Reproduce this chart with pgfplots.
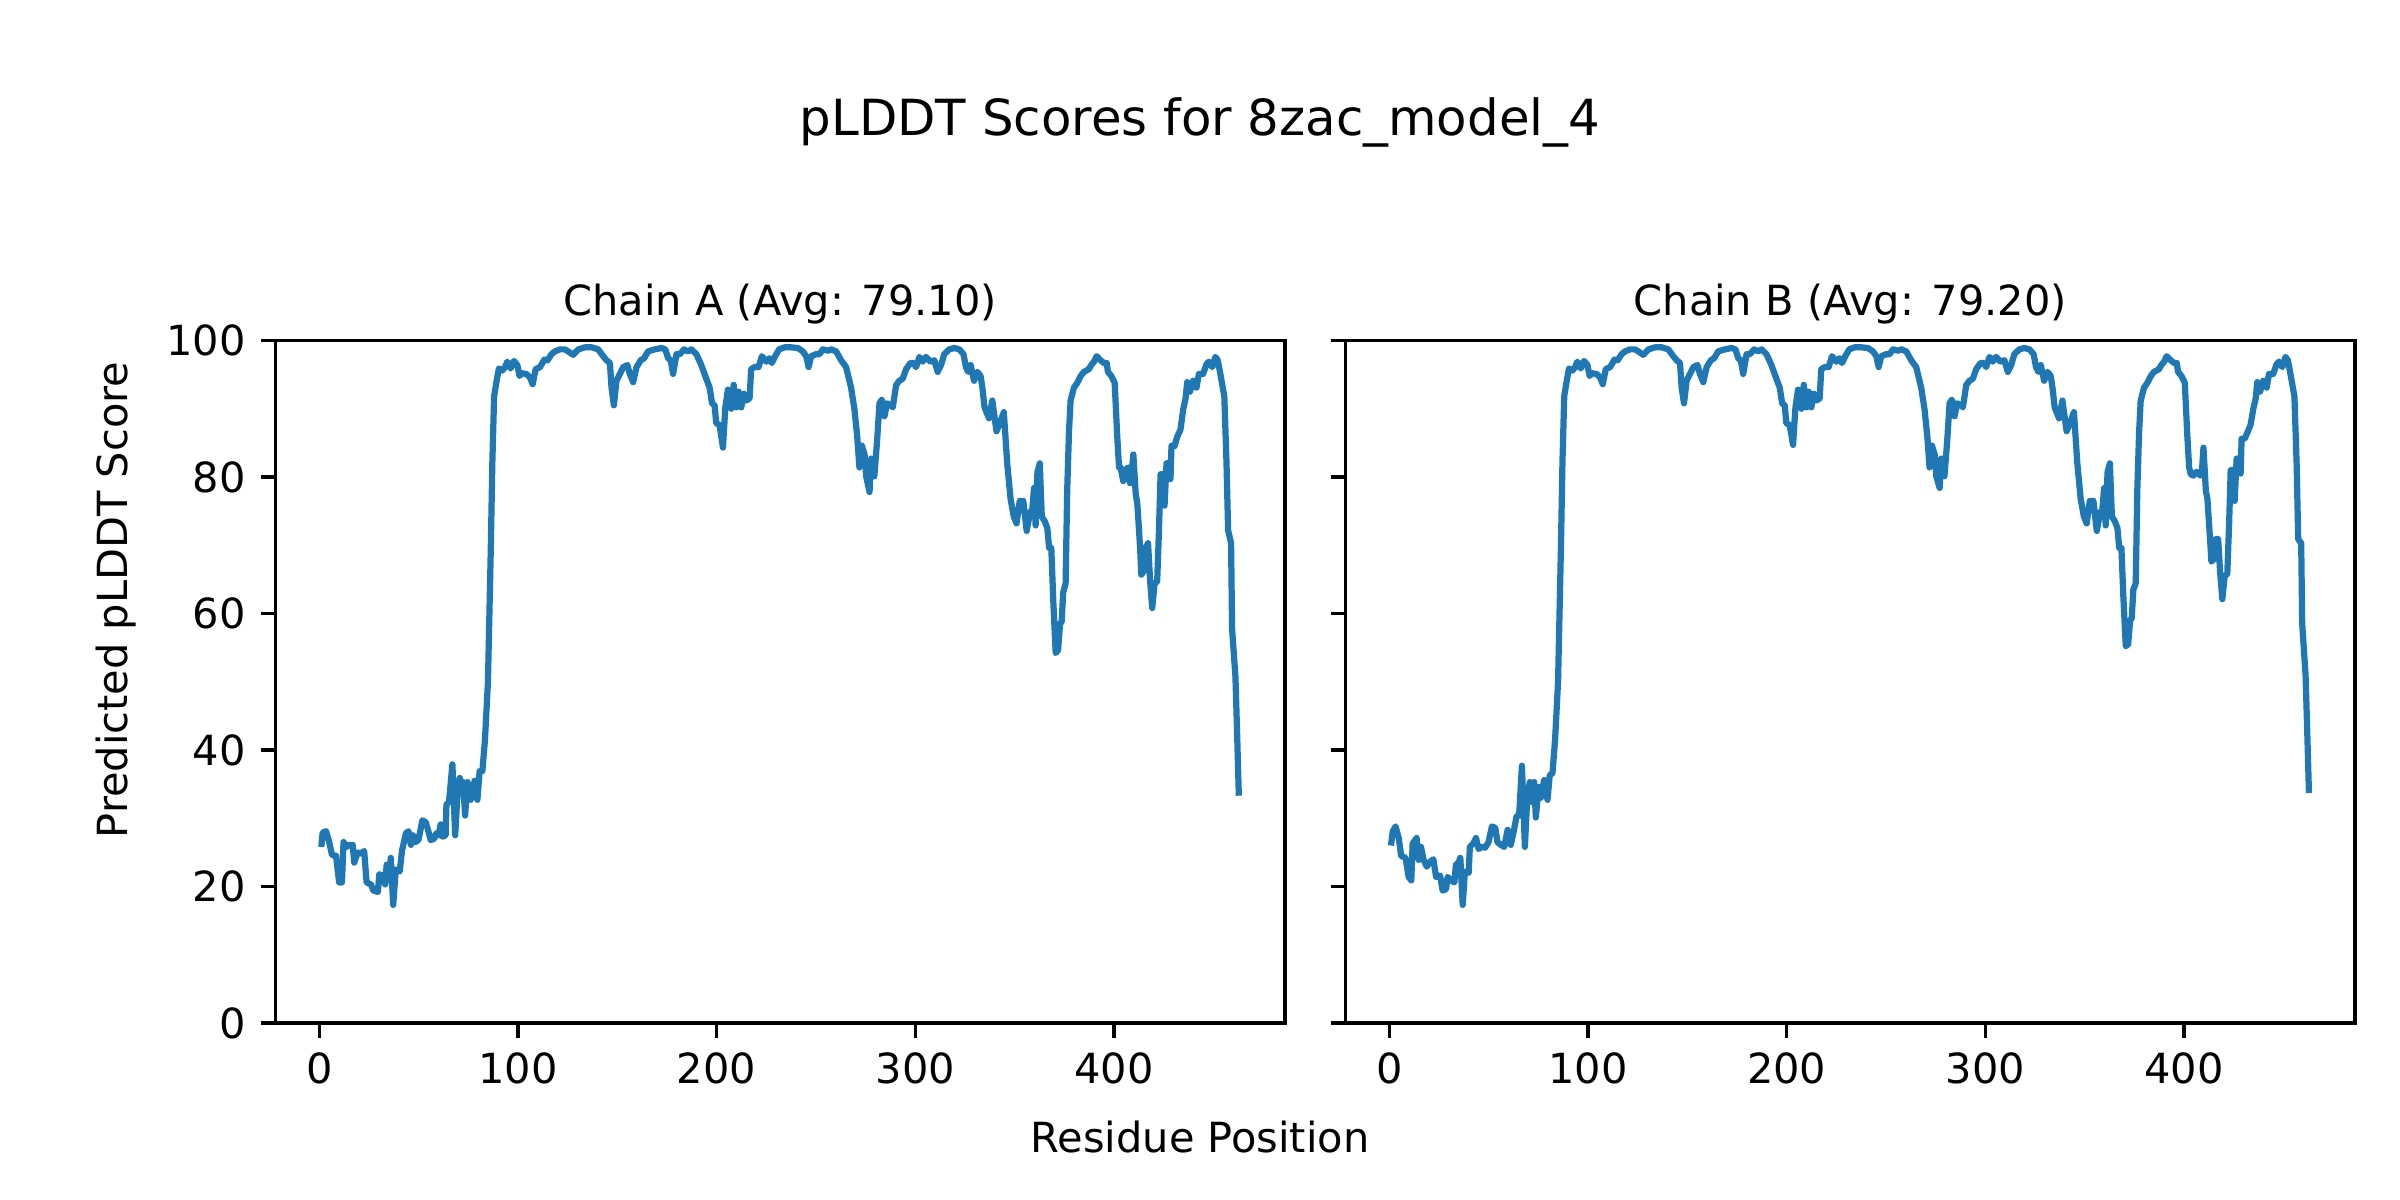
\documentclass[border=0pt]{standalone}
\usepackage{fontspec}
\setmainfont{DejaVu Sans}
\usepackage{pgfplots}
\pgfplotsset{compat=1.18}
\definecolor{mplblue}{HTML}{1F77B4}

\pgfplotsset{
  pl/.style={
    scale only axis, width=3.365in, height=2.275in,
    xmin=-22.1, xmax=486.1, ymin=0, ymax=100,
    xtick={0,100,200,300,400}, ytick={0,20,40,60,80,100},
    minor tick num=0,
    tick align=outside, major tick length=3.5pt,
    xtick pos=left, ytick pos=left,
    every tick/.style={black, line width=0.8pt},
    axis line style={line width=0.8pt},
    tick label style={font=\fontsize{10}{12}\selectfont},
    /pgf/number format/assume math mode=true,
    xticklabel style={inner sep=0pt, yshift=-3.5pt},
    yticklabel style={inner sep=0pt, xshift=-3.5pt},
    title style={at={(0.5,1)}, anchor=base, font=\fontsize{10}{12}\selectfont, inner sep=0pt},
  }
}

\begin{document}
\begin{tikzpicture}
\path[use as bounding box] (0,0) rectangle (8in,4in);

\begin{axis}[pl, at={(0.918in,0.59in)}, anchor=south west, title={Chain A (Avg: 79.10)}]
\addplot[mplblue, line width=1.5pt, line join=round] coordinates {
(1,25.8) (1.7,27.9) (3.4,28.1) (5,26.5) (6.4,24.6) (8.4,24.5) (10,20.6) (11.4,20.6) (12.2,26.5) (13.7,25.8) (15,26.1) (16.8,26.1) (17.6,23.5) (19.3,25) (20.9,24.8) (22.6,25.2) (23.8,20.6) (26,20.3) (27.2,19.4) (28.5,19.3) (29.5,19.2) (30.2,21.8) (31.8,21.6) (33.2,20.3) (33.9,23.2) (35.2,22.2) (36,24.2) (37.2,17.3) (38.5,22.5) (40.5,22.2) (41.6,25.2) (43.6,27.8) (44.9,28.1) (46.1,26.1) (47.2,27.5) (48.2,26.5) (49.9,26.8) (51.9,29.7) (53.6,29.4) (54.9,28.1) (56.1,26.8) (57.8,27) (58.9,27.8) (60,27.5) (61.1,29.1) (62,27.3) (63.6,27.5) (64,32) (65.3,32.4) (67,37.9) (68.4,27.5) (69.5,33.3) (70.7,35.9) (71.5,33.7) (72.4,35.3) (73.4,30.4) (74.6,35.3) (76.2,32.7) (78.2,35.5) (79.6,32.7) (80.7,36.9) (82.1,36.9) (83.4,41.5) (84.9,50) (86.3,69) (87.1,82) (88,91.8) (89.1,93.8) (90.4,95.9) (92.1,95.6) (93.5,96.1) (94.6,96.9) (96.3,95.9) (98,97) (99.7,96.4) (100.8,94.8) (101.9,95.2) (104.3,95.1) (106,94.6) (107.4,93.6) (108.9,95.8)
(111.1,96.1) (113.3,97.2) (114.9,97.1) (116.9,98) (118.6,98.4) (121.1,98.7) (123.6,98.7) (125.3,98.4) (127.8,97.9) (130.4,98.7) (133.7,99) (137.1,99) (140.4,98.7) (142.9,97.7) (144.6,97.1) (146.3,96.7) (147.1,93.1) (148.3,90.5) (149.6,94.1) (151.3,95.1) (153,96.1) (155.1,96.4) (156.3,95.1) (158,93.9) (159.7,96.1) (161.8,97.1) (163.5,97.4) (165.5,98.4) (168.9,98.7) (172.2,98.9) (174.2,98.7) (175.6,97.4) (176.9,97.1) (178.1,95.1) (179.8,98) (181.5,98) (183.6,98.7) (185.6,98.4) (187.3,98.7) (189.8,98) (192.3,96.4) (194.8,94.4) (196.5,93.1) (197.7,90.8) (199,90.5) (199.8,87.9) (201.5,87.6) (203.2,84.3) (204.4,90.2) (205.7,92.8) (207.4,90) (208.6,93.5) (209.9,90.2) (211.1,92.5) (212.4,90.2) (213.7,92.2) (214.9,91.2) (216.6,91.5) (217.4,95.8) (219.1,96.1) (221.1,96.1) (222.8,97.7) (225,96.9) (226.6,97.4) (227.8,96.7) (229.5,97.7) (231.5,98.7)
(234.2,99) (237.5,99) (240.9,98.9) (243.4,98.4) (245.1,97.7) (246.3,96.1) (247.6,97.7) (250.1,98) (251.8,98) (253.5,98.7) (256,98.5) (257.7,98.7) (260.2,98.4) (262.7,97.1) (265.2,96.1) (267.7,93.1) (269.4,89.9) (270.8,85.9) (271.9,81.4) (273.1,84.6) (274.5,83.3) (275.3,80.1) (277,77.8) (277.8,82.7) (279.4,80.1) (280.8,85.3) (282,90.8) (283.1,91.3) (284.5,88.9) (285.8,90.8) (287.8,90.5) (288.7,90.2) (290.4,93.5) (292,94.1) (293.7,94.4) (295.4,95.8) (297.6,96.7) (299.2,96.7) (300.4,96.1) (302.1,97.6) (303.7,96.9) (305.4,97.6) (307.6,96.9) (309.6,97.1) (311.3,95.4) (313,96.4) (314.6,98) (317.1,98.7) (319.7,98.9) (322.2,98.7) (324.3,98) (325.5,96.1) (326.7,95.4) (327.9,96.4) (329.6,94.1) (331.3,95.4) (332.9,94.8) (333.8,93.1) (334.9,90.2) (337.1,88.6) (338.8,91.2) (340.9,86.7) (342.6,87.9) (344.6,89.5) (346.3,82) (348,76.8) (349.6,74.2) (351,73.2) (352.6,76.5) (354.4,76.5) (356.1,72.1) (357.8,74.8) (358.9,75.2) (359.8,78.4) (360.6,72.9) (361.5,80.7) (362.7,82) (363.7,74.2) (365.2,73.5) (366.5,72.5) (367.4,69.6) (368.5,69.6) (369.5,61.8) (370.7,54.2) (371.9,54.6) (372.9,58.5) (373.7,58.8) (374.5,63.1) (375.7,64.4) (376.5,78.1) (377.4,86.6) (378.2,91.2) (379.9,93.1) (381.6,93.8) (383.3,94.8) (384.9,95.4) (387.4,95.8) (388.6,96.4) (390,96.9) (391.3,97.7) (393.3,97.1) (395,96.7) (396.4,96.7) (397,95.4) (398.7,94.8) (400.4,93.8) (401.7,85.9) (402.6,81.4) (403.4,81.4) (404.7,79.4) (405.9,81) (407.1,81.4) (408.1,79.1) (409,80.7) (409.8,83.3) (411,77.5) (411.8,76.1) (413.2,69.6) (413.8,65.7) (415.2,66.3) (416,69.6) (417.2,70.3) (418.2,65) (419.3,60.8) (420.5,64.4) (421.8,64.7) (422.7,72.2) (423.5,80.4) (424.4,80.4) (425.5,75.8) (426.5,82) (427.7,82) (428.5,79.7) (429,84.6) (430.5,84.5) (431.9,85.9) (433.5,86.9) (434.9,89.9) (436.1,91.5) (436.9,93.9) (438.3,92.5) (439.9,94.1) (441.6,93.1) (442.8,95.1) (444.9,95.1) (446.6,96.5) (447.8,96.9) (449.5,96.1) (451.1,97.6) (452.3,97.1) (453.6,95.1) (455.6,91.8) (456.7,82) (457.5,72.2) (459,70.3) (459.5,57.8) (461.2,50.7) (462,42.8) (462.9,33.3)
};
\end{axis}

\begin{axis}[pl, at={(4.485in,0.59in)}, anchor=south west, title={Chain B (Avg: 79.20)}, yticklabels={}]
\addplot[mplblue, line width=1.5pt, line join=round] coordinates {
(0.8,26) (1.7,28.1) (3.1,28.8) (4.7,27.1) (5.9,24.5) (8.1,24.2) (9.7,21.4) (11,20.9) (11.7,26.3) (13.7,27.1) (14.7,23.9) (15.9,25.8) (17.1,24) (18.8,22.9) (20.1,23.5) (22.1,24) (23.5,21.4) (25.5,21.6) (26.8,19.4) (28.5,19.6) (29.3,21.4) (31,20.9) (32.7,20.6) (33.5,23.2) (34.8,23.5) (35.7,24.2) (36.9,17.3) (38,22.2) (39.9,22) (40.5,25.8) (42.2,26.3) (43.6,27.1) (44.9,25.5) (46.6,25.8) (48.2,25.7) (49.9,26.5) (51.6,28.8) (53.3,28.6) (54.4,26.5) (56.1,26.1) (57.8,25.8) (59.5,28.3) (61.1,26.1) (62.8,28.4) (64,30.3) (65.3,30.4) (66.7,37.7) (68.2,25.8) (69.5,33.7) (70.7,35.3) (71.7,32.4) (72.9,35.3) (73.7,30.1) (75.1,34.6) (76.2,33) (77.9,35.6) (79.6,32.7) (80.7,36.3) (82.1,36.6) (83.4,41.5) (84.9,50) (86.3,69) (87.1,82) (88,91.8) (89.1,93.8) (90.4,95.9) (92.1,95.6) (93.5,96.1) (94.6,96.9) (96.3,95.9) (98,97) (99.7,96.4) (100.8,94.8) (101.9,95.2) (104.3,95.1) (106,94.6) (107.4,93.6) (108.9,95.8)
(111.1,96.1) (113.3,97.2) (114.9,97.1) (116.9,98) (118.6,98.4) (121.1,98.7) (123.6,98.7) (125.3,98.4) (127.8,97.9) (130.4,98.7) (133.7,99) (137.1,99) (140.4,98.7) (142.9,97.7) (144.6,97.1) (146.3,96.7) (147.1,93.1) (148.3,90.8) (149.6,94.1) (151.3,95.1) (153,96.1) (155.1,96.4) (156.3,95.1) (158,93.9) (159.7,96.1) (161.8,97.1) (163.5,97.4) (165.5,98.4) (168.9,98.7) (172.2,98.9) (174.2,98.7) (175.6,97.4) (176.9,97.1) (178.1,95.1) (179.8,98) (181.5,98) (183.6,98.7) (185.6,98.4) (187.3,98.7) (189.8,98) (192.3,96.4) (194.8,94.4) (196.5,93.1) (197.7,90.8) (199,90.5) (199.8,87.9) (201.5,87.6) (203.2,84.7) (204.4,90.2) (205.7,92.8) (207.4,90) (208.6,93.5) (209.9,90.2) (211.1,92.5) (212.4,90.2) (213.7,92.2) (214.9,91.2) (216.6,91.5) (217.4,95.8) (219.1,96.1) (221.1,96.1) (222.8,97.7) (225,96.9) (226.6,97.4) (227.8,96.7) (229.5,97.7) (231.5,98.7)
(234.2,99) (237.5,99) (240.9,98.9) (243.4,98.4) (245.1,97.7) (246.3,96.1) (247.6,97.7) (250.1,98) (251.8,98) (253.5,98.7) (256,98.5) (257.7,98.7) (260.2,98.4) (262.7,97.1) (265.2,96.1) (267.7,93.1) (269.4,89.9) (270.8,85.9) (271.9,81.4) (273.1,84.6) (274.5,83.3) (275.3,80.1) (277,78.4) (277.8,82.7) (279.4,80.1) (280.8,85.3) (282,90.8) (283.1,91.3) (284.5,88.9) (285.8,90.8) (287.8,90.5) (288.7,90.2) (290.4,93.5) (292,94.1) (293.7,94.4) (295.4,95.8) (297.6,96.7) (299.2,96.7) (300.4,96.1) (302.1,97.6) (303.7,96.9) (305.4,97.6) (307.6,96.9) (309.6,97.1) (311.3,95.4) (313,96.4) (314.6,98) (317.1,98.7) (319.7,98.9) (322.2,98.7) (324.3,98) (325.5,96.1) (326.7,95.4) (327.9,96.4) (329.6,94.1) (331.3,95.4) (332.9,94.8) (333.8,93.1) (334.9,90.2) (337.1,88.6) (338.8,91.2) (340.9,86.7) (342.6,87.9) (344.6,89.5) (346.3,82) (348,76.8) (349.6,74.2) (351,73.2) (352.6,76.5) (354.4,76.5) (356.1,72.1) (357.8,74.8) (358.9,75.2) (359.8,78.4) (360.6,72.9) (361.5,80.7) (362.7,82) (363.7,74.2) (365.2,73.5) (366.5,72.5) (367.4,69.6) (368.5,69.6) (369.5,62.3) (370.7,55.2) (371.9,55.5) (372.9,59) (373.7,59.3) (374.5,63.5) (375.7,64.4) (376.5,78.1) (377.4,86.6) (378.2,91.2) (379.9,93.1) (381.6,93.8) (383.3,94.8) (384.9,95.4) (387.4,95.8) (388.6,96.4) (390,96.9) (391.3,97.7) (393.3,97.1) (395,96.7) (396.4,96.7) (397,95.4) (398.7,94.8) (400.4,93.8) (401.7,85.9) (402.6,81.4) (403.4,80.4) (404.7,80.2) (405.9,80.7) (407.1,80.7) (408.1,80.2) (409,80.7) (409.8,84.3) (411,78) (411.8,76.8) (413.2,70.5) (413.8,67.6) (415.2,68) (416,70.9) (417.2,70.9) (418.2,66) (419.3,62.1) (420.5,65.5) (421.8,65.8) (422.7,73) (423.5,81) (424.4,81) (425.5,76.5) (426.5,82.7) (427.7,82.7) (428.5,80.5) (429,85.6) (430.5,85.6) (431.9,86.5) (433.5,87.6) (434.9,90) (436.1,91.5) (436.9,93.9) (438.3,92.5) (439.9,94.1) (441.6,93.1) (442.8,95.1) (444.9,95.1) (446.6,96.5) (447.8,96.9) (449.5,96.1) (451.1,97.6) (452.3,97.1) (453.6,95.1) (455.6,91.8) (456.7,82) (457.5,70.9) (459,70.3) (459.5,58.5) (461.2,51) (462,43.2) (462.9,33.7)
};
\end{axis}

\node[anchor=base, font=\fontsize{12}{14}\selectfont, inner sep=0pt] at (4in,3.547in) {pLDDT Scores for 8zac\_model\_4};
\node[anchor=base, font=\fontsize{10}{12}\selectfont, inner sep=0pt] at (4in,0.16in) {Residue Position};
\node[anchor=base, rotate=90, font=\fontsize{10}{12}\selectfont, inner sep=0pt] at (0.425in,2.0in) {Predicted pLDDT Score};
\end{tikzpicture}
\end{document}
